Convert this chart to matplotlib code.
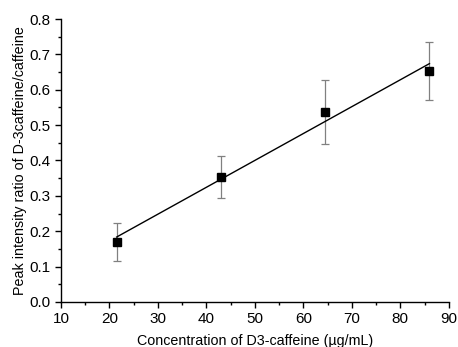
import numpy as np
import matplotlib
matplotlib.use("Agg")
import matplotlib.pyplot as plt
from matplotlib.ticker import MultipleLocator

# data
conc = [21.5, 43.0, 64.5, 86.0]
ratio = [0.170, 0.354, 0.537, 0.654]
err = [0.054, 0.060, 0.090, 0.082]

plt.rcParams['font.family'] = ['Liberation Sans', 'DejaVu Sans']

fig = plt.figure(figsize=(4.58, 3.47), dpi=100)
ax = fig.add_axes([0.133, 0.130, 0.847, 0.815])

# linear fit through the points
slope, icpt = np.polyfit(conc, ratio, 1)
xf = np.array([conc[0], conc[-1]])
ax.plot(xf, slope * xf + icpt, color='black', lw=1.0, zorder=2)

ax.errorbar(conc, ratio, yerr=err, fmt='none', ecolor='#808080',
            elinewidth=0.9, capsize=3, capthick=0.9, zorder=1)
ax.plot(conc, ratio, ls='none', marker='s', ms=5.5, color='black', zorder=3)

ax.set_xlim(10, 90)
ax.set_ylim(0, 0.8)
ax.xaxis.set_major_locator(MultipleLocator(10))
ax.xaxis.set_minor_locator(MultipleLocator(5))
ax.yaxis.set_major_locator(MultipleLocator(0.1))
ax.yaxis.set_minor_locator(MultipleLocator(0.05))
ax.yaxis.set_major_formatter(matplotlib.ticker.FormatStrFormatter('%.1f'))

for s in ['top', 'right']:
    ax.spines[s].set_visible(False)
for s in ['left', 'bottom']:
    ax.spines[s].set_linewidth(1.0)
ax.tick_params(which='major', direction='out', length=4, width=1.0, labelsize=11)
ax.tick_params(axis='x', which='major', pad=3)
ax.tick_params(which='minor', direction='out', length=2.5, width=1.0)

ax.set_xlabel('Concentration of D3-caffeine (\u00b5g/mL)', fontsize=10.3, labelpad=6)
ax.set_ylabel('Peak intensity ratio of D-3caffeine/caffeine', fontsize=10.3, labelpad=2)

fig.savefig('out.png', dpi=100)
